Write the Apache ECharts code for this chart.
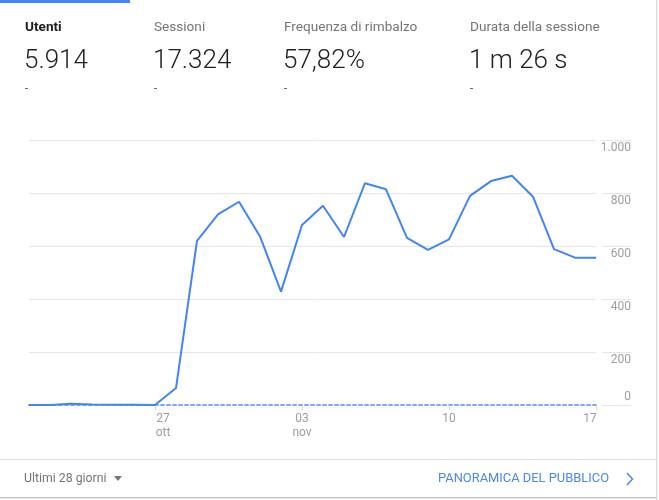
<!DOCTYPE html>
<html>
<head>
<meta charset="utf-8">
<script src="https://cdn.jsdelivr.net/npm/echarts@6/dist/echarts.min.js"></script>
<style>
html,body{margin:0;padding:0;background:#fff;}
#c{width:659px;height:500px;}
</style>
</head>
<body>
<div id="c"></div>
<script>
// ---- data ----
const days = ['21 ott','22 ott','23 ott','24 ott','25 ott','26 ott','27 ott','28 ott','29 ott','30 ott','31 ott',
  '01 nov','02 nov','03 nov','04 nov','05 nov','06 nov','07 nov','08 nov','09 nov','10 nov','11 nov','12 nov','13 nov','14 nov','15 nov','16 nov','17 nov'];
const users = [0,0,5,2,1,1,0,64,619,719,767,
  636,428,679,752,634,837,814,631,585,625,789,845,865,786,588,556,556];
const tickIndex = [6,13,20,27];
const tickText = ['27\nott','03\nnov','10','17'];
const yMin = 0, yMax = 1000, yStep = 200;
const metricNames = ['Utenti','Sessioni','Frequenza di rimbalzo','Durata della sessione'];
const metricValues = ['5.914','17.324','57,82%','1 m 26 s'];
const metricX = [25,154,284,470];
const footerLeft = 'Ultimi 28 giorni';
const footerRight = 'PANORAMICA DEL PUBBLICO';

const FONT = 'Roboto, "Noto Sans", sans-serif';
const fmtNum = v => v.toString().replace(/\B(?=(\d{3})+(?!\d))/g, '.');
const showTick = (i) => tickIndex.indexOf(i) >= 0;

const chart = echarts.init(document.getElementById('c'), null, {renderer:'canvas'});

const graphics = [];
graphics.push({type:'rect', shape:{x:0,y:0,width:130,height:3}, style:{fill:'#4285f4'}, silent:true});
metricNames.forEach((n,i)=>{
  graphics.push({type:'text', x:metricX[i], y:28, style:{text:n, font:(i===0?'bold ':'')+'13.6px '+FONT, fill:i===0?'#212121':'#757575', verticalAlign:'middle'}, silent:true});
  graphics.push({type:'text', x:metricX[i]-1, y:61, style:{text:metricValues[i], font:'300 26px '+FONT, fill:'#212121', verticalAlign:'middle'}, silent:true});
  graphics.push({type:'rect', shape:{x:metricX[i],y:88,width:3,height:1}, style:{fill:'#666'}, silent:true});
});
// card borders
graphics.push({type:'rect', shape:{x:656,y:0,width:1,height:500}, style:{fill:'#dcdcdc'}, silent:true});
graphics.push({type:'rect', shape:{x:657,y:0,width:1,height:500}, style:{fill:'#f0f0f0'}, silent:true});
graphics.push({type:'rect', shape:{x:0,y:459,width:656,height:1}, style:{fill:'#e0e0e0'}, silent:true});
graphics.push({type:'rect', shape:{x:0,y:497,width:657,height:1}, style:{fill:'#c4c4c4'}, silent:true});
graphics.push({type:'rect', shape:{x:0,y:498,width:657,height:1}, style:{fill:'#e6e6e6'}, silent:true});
// footer
graphics.push({type:'text', x:24, y:479, style:{text:footerLeft, font:'12.3px '+FONT, fill:'#757575', verticalAlign:'middle'}, silent:true});
graphics.push({type:'polygon', shape:{points:[[114,476],[122,476],[118,481]]}, style:{fill:'#757575'}, silent:true});
graphics.push({type:'text', x:609, y:479, style:{text:footerRight, font:'12.9px '+FONT, fill:'#4a89e8', align:'right', verticalAlign:'middle'}, silent:true});
graphics.push({type:'polyline', shape:{points:[[627,473],[632.5,479],[627,485]]}, style:{stroke:'#4a89e8', lineWidth:1.5, fill:null}, silent:true});

const option = {
  animation:false,
  textStyle:{fontFamily:FONT},
  graphic: graphics,
  grid:[
    {left:29, right:63, top:140, bottom:95},
    {left:602, right:28, top:140, bottom:95}
  ],
  xAxis:[
    {type:'category', gridIndex:0, data:days, boundaryGap:false,
      axisLine:{show:true, lineStyle:{color:'#7fa8f0', width:2, type:[3,3]}},
      axisTick:{show:true, interval:(i)=>showTick(i), length:5, lineStyle:{color:'#d6d6d6'}},
      axisLabel:{show:true, interval:(i)=>showTick(i), color:'#9e9e9e', fontSize:12, margin:7, lineHeight:14,
        formatter:(v,i)=>{
          const k = tickIndex.indexOf(i);
          if (k<0) return '';
          const t = tickText[k];
          if (k===0) return t.split('\n').map(s=>'{l|'+s+'}').join('\n');
          if (k===tickIndex.length-1) return '{r|'+t+'}';
          return t;
        },
        rich:{
          l:{padding:[0,0,0,16], color:'#9e9e9e', fontSize:12, lineHeight:14},
          r:{padding:[0,12,0,0], color:'#9e9e9e', fontSize:12, lineHeight:14}
        }
      },
      splitLine:{show:false}
    },
    {type:'category', gridIndex:1, data:['a'], show:false}
  ],
  yAxis:[
    {type:'value', gridIndex:0, min:yMin, max:yMax, interval:yStep, position:'right',
      axisLine:{show:false}, axisTick:{show:false}, axisLabel:{show:false},
      splitLine:{show:true, showMinLine:false, lineStyle:{color:'#e6e6e6', width:1}}
    },
    {type:'value', gridIndex:1, min:yMin, max:yMax, interval:yStep, position:'right',
      axisLine:{show:false}, axisTick:{show:false},
      axisLabel:{show:true, inside:true, margin:0, color:'#9e9e9e', fontSize:12, verticalAlign:'top', padding:[2,0,0,0],
        formatter:v=> v===0 ? '' : fmtNum(v)},
      splitLine:{show:true, lineStyle:{color:'#e6e6e6', width:1}}
    },
    {type:'value', gridIndex:1, min:yMin, max:yMax, interval:yStep, position:'right',
      axisLine:{show:false}, axisTick:{show:false},
      axisLabel:{show:true, inside:true, margin:0, color:'#9e9e9e', fontSize:12, verticalAlign:'bottom', padding:[0,0,2,0],
        formatter:v=> v===0 ? '0' : ''},
      splitLine:{show:false}
    }
  ],
  series:[
    {type:'line', xAxisIndex:0, yAxisIndex:0, data:users, symbol:'none', smooth:false,
      lineStyle:{color:'#4285f4', width:2}, itemStyle:{color:'#4285f4'}, z:5}
  ]
};
chart.setOption(option);
</script>
</body>
</html>
